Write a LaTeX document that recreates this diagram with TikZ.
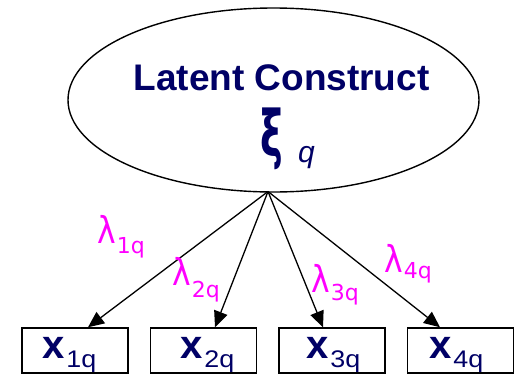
\documentclass[tikz,border=0pt]{standalone}
\usepackage{fontspec}
\setmainfont{Liberation Sans}
\newfontfamily\dejavu{DejaVu Sans}
\usetikzlibrary{arrows.meta,calc,shapes.geometric}
\definecolor{navy}{RGB}{0,0,102}
\definecolor{mag}{RGB}{255,0,255}
\newcommand\lamlab[2]{\scalebox{0.85}[1]{\dejavu\fontsize{37}{37}\selectfont λ}\hspace{1pt}\raisebox{-#2pt}{\dejavu\fontsize{22}{22}\selectfont #1q}}
\newcommand\xlab[1]{{\fontsize{40}{40}\selectfont\bfseries x}\hspace{2pt}\raisebox{-9pt}{\fontsize{24}{24}\selectfont\scalebox{1.12}[1]{#1q}}}
\begin{document}
\begin{tikzpicture}[x=1pt,y=-1pt,
  box/.style={draw, line width=1.5pt, minimum width=106pt, minimum height=45pt, inner sep=0pt},
  link/.style={line width=1.3pt, -{Triangle[length=16pt,width=14pt]}},
  lam/.style={text=mag, anchor=base west, inner sep=0pt},
  xtxt/.style={text=navy, anchor=base west, inner sep=0pt}]
\useasboundingbox (0,0) rectangle (514,375);
\node[draw, ellipse, line width=1.4pt, minimum width=411pt, minimum height=184pt, inner sep=0pt] (lc) at (273.5,100) {};
\node[text=navy, anchor=base, inner sep=0pt] (title) at (281.5,90) {\fontsize{37}{37}\selectfont\bfseries Latent Construct};
\node[text=navy, anchor=base west, inner sep=0pt] (xi) at (260,156) {\scalebox{0.6}[1]{\dejavu\bfseries\fontsize{64}{64}\selectfont ξ}};
\node[text=navy, anchor=base west, inner sep=0pt] (q) at (298,162.5) {\fontsize{30}{30}\selectfont\itshape q};
\coordinate (apex) at (268,191.5);
\node[box] (b1) at (75,350.5) {};
\node[box] (b2) at (203.5,350.5) {};
\node[box] (b3) at (332,350.5) {};
\node[box] (b4) at (460.5,350.5) {};
\node[xtxt] (x1) at (42,358) {\xlab{1}};
\node[xtxt] (x2) at (180,358) {\xlab{2}};
\node[xtxt] (x3) at (306,358) {\xlab{3}};
\node[xtxt] (x4) at (429,358) {\xlab{4}};
\draw[link] (apex) -- ($(b1.north)+(13,0)$);
\draw[link] (apex) -- ($(b2.north)+(11.5,0)$);
\draw[link] (apex) -- ($(b3.north)+(-9,0)$);
\draw[link] (apex) -- ($(b4.north)+(-20.5,0)$);
\node[lam] (l1) at (97,243) {\lamlab{1}{10}};
\node[lam] (l2) at (172,285) {\lamlab{2}{12}};
\node[lam] (l3) at (311,292) {\lamlab{3}{8}};
\node[lam] (l4) at (384,272) {\lamlab{4}{6}};
\end{tikzpicture}
\end{document}
